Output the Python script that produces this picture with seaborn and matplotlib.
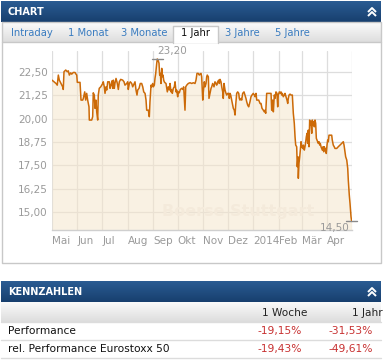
import matplotlib
matplotlib.use("Agg")
import matplotlib.pyplot as plt
import numpy as np
import pandas as pd
import seaborn as sns
from matplotlib.colors import LinearSegmentedColormap
from matplotlib.patches import Rectangle

# price series: calendar days after START and closing price (EUR)
START = "2013-05-01"
days = [
    0.0, 2.4, 4.9, 6.4, 7.7, 8.9, 11.0, 13.0, 13.7, 14.6,
    16.7, 18.6, 19.8, 21.1, 22.8, 24.0, 25.9, 28.0, 29.2, 30.1,
    30.8, 34.1, 35.3, 37.4, 38.1, 39.8, 41.0, 42.2, 43.4, 45.0,
    45.4, 48.3, 49.5, 50.2, 51.5, 52.3, 53.5, 54.4, 55.6, 56.3,
    57.5, 59.3, 60.5, 61.7, 62.4, 63.6, 64.5, 65.7, 66.6, 67.8,
    69.7, 70.6, 71.8, 73.0, 73.9, 74.6, 75.8, 76.7, 77.9, 79.5,
    80.7, 81.9, 83.6, 86.0, 87.6,
    88.8, 90.9, 92.1, 92.8, 94.1, 95.3, 97.0, 98.2, 99.8, 101.0,
    102.2, 103.4, 104.3, 105.9, 107.4, 109.1, 110.4, 111.6, 113.2, 114.4,
    115.2, 117.2, 118.4, 119.2, 120.5, 121.3, 122.5, 123.3, 124.5, 125.3,
    126.2, 127.4, 128.1, 129.3, 130.2, 131.0, 131.8, 132.6, 133.5, 134.2,
    135.1, 135.9, 136.6, 137.5, 138.7, 140.3, 141.5, 142.7, 143.6, 144.8,
    145.6, 146.4, 147.6, 148.8, 149.7, 150.9, 151.7, 152.9, 153.7, 154.9,
    156.1, 157.8, 159.0, 160.2, 161.8, 162.7, 163.9, 165.8, 167.9, 170.0,
    171.9, 174.0, 175.2, 176.4, 178.0, 179.2,
    180.1, 181.3, 182.1, 183.4, 184.1, 185.3, 186.2, 187.4, 188.2, 188.9,
    190.2, 191.0, 192.2, 193.5, 194.3, 195.5, 197.1, 198.3, 199.5, 200.4,
    201.6, 202.8, 203.5, 204.4, 205.6, 206.5, 207.7, 208.4, 209.3, 210.5,
    211.7, 212.6, 213.8, 215.0, 215.7, 216.6, 217.4, 218.6, 219.9, 220.6,
    221.8, 222.7, 223.5, 224.7, 225.9, 227.2, 227.9, 228.7, 230.0, 230.8,
    232.0, 233.6, 234.8, 236.0, 236.9, 238.1, 239.3, 240.9, 242.1, 243.3,
    244.9, 246.1, 247.0, 248.2, 249.1, 250.3, 251.5, 253.1, 254.3, 255.5,
    257.1, 258.3, 259.2, 260.0, 261.2, 263.2, 265.2, 266.5, 267.3, 268.5,
    269.3, 270.5,
    271.3, 272.5, 273.7, 274.6, 275.3, 276.6, 277.8, 278.6, 279.5, 280.2,
    281.4, 282.6, 283.5, 284.7, 285.9, 286.8, 287.5, 288.4, 289.6, 290.8,
    292.4, 293.6, 294.8, 295.7, 296.5, 297.7, 298.4, 299.3, 299.7, 300.5,
    301.4, 302.1, 303.0, 303.8, 305.1, 305.8, 307.0, 307.8, 308.7, 309.4,
    310.3, 311.1, 311.8, 312.7, 313.5, 314.3, 315.1, 316.0, 316.7, 317.6,
    318.4, 319.1, 320.0, 320.8, 321.6, 322.4, 323.3, 324.0, 324.9, 325.7,
    326.4, 327.3, 328.1, 328.9, 329.8, 330.6, 331.3, 332.2, 333.0, 333.7,
    334.6, 335.4, 336.2, 337.0, 338.6, 340.3, 341.0, 342.2, 343.4, 344.3,
    346.4, 348.3, 350.4, 352.5, 354.4, 355.3, 356.5, 357.3, 358.6, 359.8,
    360.5, 361.7, 362.6, 363.8, 364.6,
]
close = [
    22.07, 21.98, 21.89, 21.80, 22.34, 22.07, 21.89, 21.71, 21.57, 22.52,
    22.61, 22.52, 22.57, 22.34, 22.46, 22.39, 22.48, 22.48, 22.39, 22.34,
    21.95, 21.95, 21.00, 21.00, 21.09, 21.44, 21.00, 21.36, 21.00, 20.64,
    19.93, 19.93, 20.11, 21.39, 21.27, 20.56, 21.00, 20.37, 19.93, 21.27,
    21.63, 21.71, 21.80, 21.89, 21.98, 21.71, 21.36, 21.71, 21.54, 21.98,
    21.98, 21.63, 21.80, 22.03, 21.63, 22.07, 21.63, 21.93, 22.16, 21.89,
    21.57, 21.98, 22.11, 22.07, 21.98,
    21.80, 21.89, 21.98, 21.57, 21.89, 21.98, 21.89, 21.71, 21.86, 21.98,
    21.54, 21.27, 21.54, 21.63, 21.89, 21.89, 21.71, 21.44, 21.36, 21.00,
    20.46, 20.46, 20.11, 20.91, 21.80, 21.71, 21.89, 21.71, 21.80, 22.16,
    22.43, 22.97, 23.20, 23.11, 22.97, 22.34, 22.43, 21.89, 22.70, 22.25,
    22.34, 22.07, 21.98, 21.93, 21.89, 21.44, 21.71, 21.54, 21.89, 21.44,
    21.54, 21.36, 21.63, 21.71, 21.98, 21.44, 21.54, 21.18, 21.44, 21.39,
    21.57, 21.63, 21.57, 21.71, 20.46, 21.71, 21.80, 21.89, 21.93, 21.89,
    21.93, 21.89, 22.07, 22.43, 22.43, 22.34,
    22.39, 22.43, 22.25, 21.00, 21.44, 21.98, 21.71, 21.89, 22.25, 22.34,
    22.25, 21.09, 21.36, 21.63, 21.71, 21.89, 21.71, 21.98, 21.89, 21.80,
    21.98, 22.07, 21.89, 22.11, 21.98, 21.71, 21.44, 21.09, 21.89, 21.54,
    21.36, 21.27, 21.36, 21.36, 21.09, 21.36, 21.27, 21.00, 20.73, 20.56,
    20.46, 20.20, 20.73, 21.36, 21.44, 21.36, 21.09, 21.00, 21.09, 21.00,
    21.36, 21.44, 21.27, 21.09, 20.91, 20.73, 20.64, 20.91, 21.18, 21.27,
    21.36, 21.27, 21.18, 21.36, 21.00, 21.00, 21.00, 20.82, 20.82, 20.56,
    20.46, 20.37, 20.46, 20.29, 21.36, 21.36, 21.36, 21.36, 20.46, 21.00,
    20.37, 21.27,
    21.09, 21.44, 21.36, 20.64, 21.27, 21.44, 21.36, 21.44, 21.27, 21.36,
    21.18, 21.27, 21.36, 21.18, 21.00, 20.82, 21.09, 21.27, 21.32, 21.27,
    21.27, 20.29, 19.75, 19.03, 18.59, 18.50, 17.43, 17.96, 16.81, 17.61,
    17.96, 18.32, 18.77, 18.50, 18.41, 18.59, 18.32, 18.50, 18.77, 19.03,
    19.22, 18.68, 19.39, 18.50, 19.93, 19.66, 19.84, 19.22, 19.93, 19.66,
    19.84, 19.57, 19.93, 19.75, 18.95, 18.86, 18.77, 18.68, 18.77, 18.59,
    18.68, 18.50, 18.41, 18.32, 18.50, 18.23, 18.50, 18.32, 18.41, 18.14,
    18.59, 18.86, 18.77, 19.12, 19.12, 19.12, 18.86, 18.59, 18.50, 18.41,
    18.41, 18.50, 18.59, 18.68, 18.77, 18.59, 18.23, 17.96, 17.79, 17.34,
    16.71, 15.91, 15.46, 14.75, 14.50,
]
month_labels = ["Mai", "Jun", "Jul", "Aug", "Sep", "Okt", "Nov", "Dez",
                "2014", "Feb", "Mär", "Apr"]
y_ticks = [15.0, 16.25, 17.5, 18.75, 20.0, 21.25, 22.5]
tabs = ["Intraday", "1 Monat", "3 Monate", "1 Jahr", "3 Jahre", "5 Jahre"]
active_tab = "1 Jahr"
kpi_rows = ["Performance", "rel. Performance Eurostoxx 50"]
kpi_cols = ["1 Woche", "1 Jahr"]
perf_week = [-19.15, -19.43]
perf_year = [-31.53, -49.61]

W, H = 383, 362
BLUE_TOP, BLUE_BOT = "#2b5c93", "#173f6e"
GREY = "#9a9a9a"
LINE = "#cc6a08"


def de(v, fmt="{:.2f}"):
    return fmt.format(v).replace(".", ",")


def gradient(ax, x0, y0, x1, y1, top, bottom):
    cmap = LinearSegmentedColormap.from_list("g", [top, bottom])
    ax.imshow(np.linspace(0, 1, 64).reshape(-1, 1), cmap=cmap, aspect="auto",
              extent=(x0, x1, y1, y0), interpolation="bilinear", zorder=1)


def chevrons(ax, cx, cy):
    for dy in (-2.5, 1.5):
        ax.plot([cx - 4, cx, cx + 4], [cy + dy + 2.5, cy + dy - 1.5, cy + dy + 2.5],
                color="white", lw=1.4, solid_capstyle="butt", zorder=3)


sns.set_style("white")
plt.rcParams["font.family"] = ["DejaVu Sans"]

fig = plt.figure(figsize=(W / 100, H / 100), dpi=100)
fig.patch.set_facecolor("white")

# page furniture in pixel coordinates
bg = fig.add_axes([0, 0, 1, 1])
bg.axis("off")

# CHART panel
gradient(bg, 1, 1, 381, 22, BLUE_TOP, BLUE_BOT)
bg.text(8, 12, "CHART", color="white", fontsize=7, fontweight="bold", va="center", zorder=3)
chevrons(bg, 372, 12)
gradient(bg, 1.5, 22, 380.5, 42, "#fbfbfb", "#dedede")
bg.plot([1.5, 380.5], [42, 42], color="#c8c8c8", lw=1, zorder=2)
bg.add_patch(Rectangle((173, 26), 45, 17, facecolor="white", edgecolor="none", zorder=2))
bg.plot([173, 173, 218, 218], [43, 26, 26, 43], color="#c8c8c8", lw=1, zorder=3)
tab_x = [11, 68, 121, 181, 225, 275]
for x, name in zip(tab_x, tabs):
    bg.text(x, 33.5, name, fontsize=7.2, va="center", zorder=4,
            color="#111111" if name == active_tab else "#3a7cc0")
bg.plot([1.5, 1.5, 380.5, 380.5, 1.5], [22, 263, 263, 22, 22], color="#c8c8c8", lw=1, zorder=2)

# KENNZAHLEN panel
gradient(bg, 1, 281, 381, 302, BLUE_TOP, BLUE_BOT)
bg.text(8, 292, "KENNZAHLEN", color="white", fontsize=7, fontweight="bold", va="center", zorder=3)
chevrons(bg, 372, 292)
gradient(bg, 1, 302, 381, 322, "#fafafa", "#dddddd")
for y in (322, 340, 358):
    bg.plot([1, 381], [y, y], color="#dcdcdc", lw=1, zorder=2)
bg.text(307, 313, kpi_cols[0], fontsize=7.6, color="#222222", ha="right", va="center", zorder=3)
bg.text(383, 313, kpi_cols[1], fontsize=7.6, color="#222222", ha="right", va="center", zorder=3)
for y, label, wk, yr in zip((331, 349), kpi_rows, perf_week, perf_year):
    bg.text(8, y, label, fontsize=7.7, color="#111111", va="center", zorder=3)
    bg.text(302, y, de(wk) + "%", fontsize=7.7, color="#c83232", ha="right", va="center", zorder=3)
    bg.text(373, y, de(yr) + "%", fontsize=7.7, color="#c83232", ha="right", va="center", zorder=3)

bg.set_xlim(0, W)
bg.set_ylim(H, 0)

# price chart
ax = fig.add_axes([52 / W, (H - 230) / H, 300 / W, 179 / H])
ax.set_facecolor("none")
dates = pd.Timestamp(START) + pd.to_timedelta(days, unit="D")
df = pd.DataFrame({"date": dates, "close": close})
y_lo, y_hi = 14.04, 23.63

ax.fill_between(df["date"], df["close"], y_lo, color="#f5e6cc", alpha=0.55, lw=0, zorder=1)
sns.lineplot(data=df, x="date", y="close", ax=ax, color=LINE, lw=1.1,
             estimator=None, sort=False, zorder=3)
ax.text(0.62, 0.105, "Boerse Stuttgart", transform=ax.transAxes, ha="center", va="center",
        fontsize=11.5, fontweight="bold", color="#f4eadb", zorder=2)

month_starts = pd.date_range(START, periods=13, freq="MS")
ax.set_xlim(month_starts[0], month_starts[-1])
ax.set_ylim(y_lo, y_hi)
ax.set_xticks(month_starts)
ax.set_xticklabels(month_labels + [""], ha="left")
ax.set_yticks(y_ticks)
ax.set_yticklabels([de(t) for t in y_ticks])
ax.tick_params(axis="both", length=0, labelsize=7.5, labelcolor=GREY)
ax.tick_params(axis="x", pad=4)
ax.tick_params(axis="y", pad=3)
ax.grid(True, color="#dddddd", lw=0.9)
ax.set_axisbelow(True)
ax.set_xlabel("")
ax.set_ylabel("")
for side in ("top", "left", "right"):
    ax.spines[side].set_visible(False)
ax.spines["bottom"].set_color("#cfcfcf")
ax.spines["bottom"].set_linewidth(1)

# high / low markers
i_hi, i_lo = int(np.argmax(close)), int(np.argmin(close))
for i, off, va, ha in ((i_hi, (0, 3), "bottom", "left"), (i_lo, (-2, -2), "top", "right")):
    d, v = df["date"][i], df["close"][i]
    ax.plot([d - pd.Timedelta(days=7), d + pd.Timedelta(days=7)], [v, v],
            color="#8a8a8a", lw=1, clip_on=False, zorder=4)
    ax.annotate(de(v), (d, v), xytext=off, textcoords="offset pixels",
                ha=ha, va=va, fontsize=7.5, color=GREY, annotation_clip=False)

fig.savefig("out.png", dpi=100)
